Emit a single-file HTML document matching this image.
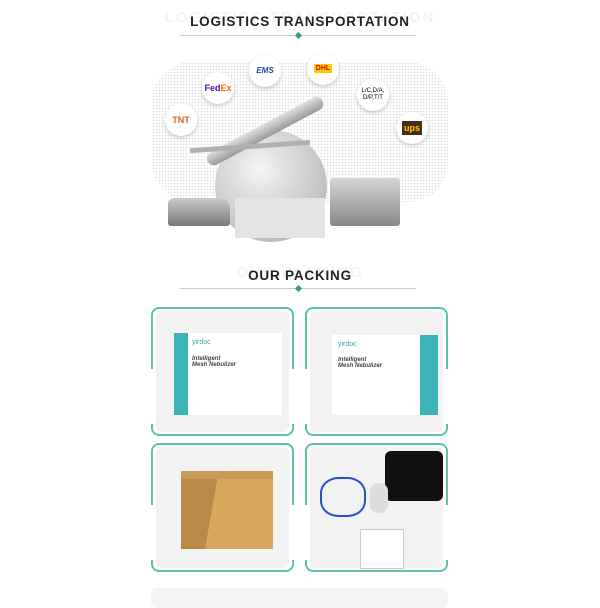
<!DOCTYPE html>
<html><head><style>
body{margin:0;width:600px;height:600px;background:#fff;position:relative;overflow:hidden;font-family:"Liberation Sans",sans-serif}
.a{position:absolute}
.ttl{position:absolute;left:0;width:600px;text-align:center;font-weight:bold;color:#222;font-size:13.5px;letter-spacing:0.8px}
.ghost{position:absolute;left:0;width:600px;text-align:center;font-weight:bold;color:#f3f3f3;font-size:15px;letter-spacing:2px}
.line{position:absolute;left:180px;width:236px;height:1px;background:#ccc}
.dia{position:absolute;left:296px;width:5px;height:5px;background:#2a9d8a;transform:rotate(45deg)}
.badge{position:absolute;border-radius:50%;background:#fff;box-shadow:0 2px 4px rgba(0,0,0,.18);text-align:center;font-weight:bold}
.card{position:absolute;width:143px;height:129px}
.card .in{position:absolute;left:5px;top:4px;right:5px;bottom:4px;background:#f2f2f2;border-radius:6px}
.card .t{position:absolute;left:0;right:0;top:0;height:60px;border:2px solid #5cc2ad;border-bottom:none;border-radius:8px 8px 0 0}
.card .b{position:absolute;left:0;right:0;bottom:0;height:10px;border:2px solid #5cc2ad;border-top:none;border-radius:0 0 8px 8px}
</style></head><body>
<div class="ghost" style="top:9px">LOGISTICS TRANSPORTATION</div>
<div class="ttl" style="top:14px">LOGISTICS TRANSPORTATION</div>
<div class="line" style="top:35px"></div><div class="dia" style="top:33px"></div>

<div class="a" style="left:152px;top:62px;width:296px;height:140px;background-image:radial-gradient(#e2e2e2 0.7px,transparent 1px);background-size:3px 3px;border-radius:40px"></div>
<div class="a" style="left:215px;top:130px;width:112px;height:112px;border-radius:50%;background:radial-gradient(circle at 40% 35%,#f4f4f4,#c0c0c0 70%,#a0a0a0)"></div>
<div class="a" style="left:200px;top:124px;width:130px;height:14px;background:linear-gradient(#e0e0e0,#999);transform:rotate(-28deg);border-radius:8px"></div>
<div class="a" style="left:190px;top:144px;width:120px;height:5px;background:#b0b0b0;transform:rotate(-4deg)"></div>
<div class="a" style="left:235px;top:198px;width:90px;height:40px;background:#e4e4e4"></div>
<div class="a" style="left:168px;top:198px;width:62px;height:28px;background:linear-gradient(#ccc,#777);border-radius:6px 10px 3px 3px"></div>
<div class="a" style="left:330px;top:178px;width:70px;height:48px;background:linear-gradient(#d5d5d5,#888);border-radius:3px"></div>

<div class="badge" style="left:165px;top:104px;width:32px;height:32px;line-height:32px;color:#e8601c;font-size:9px">TNT</div>
<div class="badge" style="left:202px;top:72px;width:32px;height:32px;line-height:32px;color:#4d148c;font-size:9px">Fed<span style="color:#f60">Ex</span></div>
<div class="badge" style="left:249px;top:55px;width:32px;height:32px;line-height:32px;color:#1a4fa0;font-size:8px;font-style:italic">EMS</div>
<div class="badge" style="left:307px;top:53px;width:32px;height:32px;line-height:32px;font-size:7px"><span style="background:#fc0;color:#d40511;padding:1px 2px">DHL</span></div>
<div class="badge" style="left:357px;top:79px;width:32px;height:32px;font-size:6px;font-weight:normal;line-height:7px;padding-top:9px;box-sizing:border-box">L/C,D/A,<br>D/P,T/T</div>
<div class="badge" style="left:396px;top:112px;width:32px;height:32px;line-height:32px;color:#fc0;font-size:9px"><span style="background:#4a2c18;padding:2px">ups</span></div>

<div class="ghost" style="top:264px">OUR PACKING</div>
<div class="ttl" style="top:268px">OUR PACKING</div>
<div class="line" style="top:288px"></div><div class="dia" style="top:286px"></div>

<div class="card" style="left:151px;top:307px"><div class="t"></div><div class="b"></div><div class="in">
 <div class="a" style="left:18px;top:22px;width:108px;height:82px;background:#fff;border-left:14px solid #3db3b8;box-sizing:border-box"></div>
 <div class="a" style="left:36px;top:28px;font-size:7px;color:#3aa">yirdoc</div>
 <div class="a" style="left:36px;top:45px;font-size:6px;font-weight:bold;font-style:italic;color:#444">Intelligent<br>Mesh Nebulizer</div>
</div></div>
<div class="card" style="left:305px;top:307px"><div class="t"></div><div class="b"></div><div class="in">
 <div class="a" style="left:22px;top:24px;width:106px;height:80px;background:#fff;border-right:18px solid #3db3b8;box-sizing:border-box"></div>
 <div class="a" style="left:28px;top:30px;font-size:7px;color:#3aa">yirdoc</div>
 <div class="a" style="left:28px;top:46px;font-size:6px;font-weight:bold;font-style:italic;color:#444">Intelligent<br>Mesh Nebulizer</div>
</div></div>
<div class="card" style="left:151px;top:443px"><div class="t"></div><div class="b"></div><div class="in">
 <div class="a" style="left:25px;top:30px;width:92px;height:72px;background:linear-gradient(100deg,#b88a48 0 35%,#d6a85e 35%);"></div>
 <div class="a" style="left:25px;top:24px;width:92px;height:8px;background:#c89a55"></div>
</div></div>
<div class="card" style="left:305px;top:443px"><div class="t"></div><div class="b"></div><div class="in">
 <div class="a" style="left:75px;top:4px;width:58px;height:50px;background:#111;border-radius:6px"></div>
 <div class="a" style="left:10px;top:30px;width:42px;height:36px;border:2px solid #2c4fd0;border-radius:40%"></div>
 <div class="a" style="left:60px;top:36px;width:18px;height:30px;background:#ddd;border-radius:8px"></div>
 <div class="a" style="left:50px;top:82px;width:42px;height:38px;background:#fff;border:1px solid #ccc"></div>
</div></div>
<div class="a" style="left:151px;top:588px;width:297px;height:20px;background:#f4f4f4;border-radius:6px"></div>
</body></html>
